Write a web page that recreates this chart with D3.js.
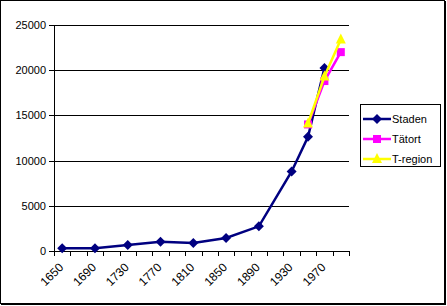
<!DOCTYPE html>
<html>
<head>
<meta charset="utf-8">
<script src="https://cdn.jsdelivr.net/npm/d3@7/dist/d3.min.js"></script>
<style>
  body { margin: 0; background: #fff; }
  svg { display: block; font-family: Arial, "Liberation Sans", sans-serif; }
</style>
</head>
<body>
<svg id="svg" width="447" height="306"></svg>
<script>
// categories (every 20 years, labels shown on every other one)
const years = [1650, 1670, 1690, 1710, 1730, 1750, 1770, 1790, 1810, 1830,
               1850, 1870, 1890, 1910, 1930, 1950, 1970, 1990];
const yTicks = [0, 5000, 10000, 15000, 20000, 25000];

const staden = [
  { year: 1650, value: 300 }, { year: 1690, value: 300 }, { year: 1730, value: 660 },
  { year: 1770, value: 1030 }, { year: 1810, value: 880 }, { year: 1850, value: 1440 },
  { year: 1890, value: 2730 }, { year: 1930, value: 8800 }, { year: 1950, value: 12640 },
  { year: 1970, value: 20240 }
];
const tatort = [
  { year: 1950, value: 14000 }, { year: 1970, value: 18800 }, { year: 1990, value: 22000 }
];
const tregion = [
  { year: 1950, value: 14100 }, { year: 1970, value: 19300 }, { year: 1990, value: 23400 }
];

const series = [
  { name: 'Staden', data: staden, color: '#000080', marker: 'diamond' },
  { name: 'Tätort', data: tatort, color: '#FF00FF', marker: 'square' },
  { name: 'T-region', data: tregion, color: '#FFFF00', marker: 'triangle' }
];

let svg = d3.select('#svg');

// outer frame
svg.append('rect').attr('x', 0.5).attr('y', 0.5).attr('width', 444).attr('height', 303)
   .attr('fill', 'none').attr('stroke', '#000').attr('stroke-width', 1);
svg.append('line').attr('x1', 445).attr('x2', 445).attr('y1', 1).attr('y2', 305)
   .attr('stroke', '#000').attr('stroke-width', 2);
svg.append('line').attr('x1', 1).attr('x2', 446).attr('y1', 304).attr('y2', 304)
   .attr('stroke', '#000').attr('stroke-width', 2);

const plotL = 54, plotR = 349, plotT = 25, plotB = 251;

let xScale = d3.scaleBand().domain(years).range([plotL, plotR]);
let yScale = d3.scaleLinear().domain([0, 25000]).range([plotB, plotT]);

// gridlines
svg.append('g')
   .attr('transform', 'translate(' + plotL + ',0)')
   .call(d3.axisLeft(yScale).tickValues(yTicks).tickSize(-(plotR - plotL)).tickFormat(''))
   .call(g => g.select('.domain').remove())
   .selectAll('line').attr('stroke', '#000').attr('shape-rendering', 'crispEdges');

// y axis
let yAx = svg.append('g')
   .attr('transform', 'translate(' + plotL + ',0)')
   .call(d3.axisLeft(yScale).tickValues(yTicks).tickSize(5).tickPadding(3).tickFormat(d3.format('d')));
yAx.selectAll('path,line').attr('stroke', '#000').attr('shape-rendering', 'crispEdges');
yAx.selectAll('text').attr('font-size', 11).attr('fill', '#000')
   .attr('font-family', 'Arial, "Liberation Sans", sans-serif');

// x axis: ticks at category boundaries
let xAx = svg.append('g').attr('transform', 'translate(0,' + plotB + ')');
xAx.append('line').attr('x1', plotL).attr('x2', plotR + 1).attr('y1', 0.5).attr('y2', 0.5)
   .attr('stroke', '#000');
let bounds = years.map(y => xScale(y)).concat([plotR]);
xAx.selectAll('.tk').data(bounds).enter().append('line')
   .attr('x1', d => Math.round(d) + 0.5).attr('x2', d => Math.round(d) + 0.5)
   .attr('y1', 0).attr('y2', 5).attr('stroke', '#000');
xAx.selectAll('.lbl').data(years.filter((d, i) => i % 2 === 0)).enter().append('text')
   .attr('transform', d => 'translate(' + (xScale(d) + xScale.bandwidth() / 2 - 4) + ',11) rotate(-45)')
   .attr('text-anchor', 'end').attr('dy', '0.7em')
   .attr('font-size', 12).text(d => d);

// line + markers
let line = d3.line().x(d => xScale(d.year) + xScale.bandwidth() / 2).y(d => yScale(d.value));

function marker(g, type, color) {
  if (type === 'diamond') {
    g.append('path').attr('d', 'M0,-5L5,0L0,5L-5,0Z').attr('fill', color);
  } else if (type === 'square') {
    g.append('rect').attr('x', -4).attr('y', -4).attr('width', 8).attr('height', 8).attr('fill', color);
  } else {
    g.append('path').attr('d', 'M0,-6L5,4L-5,4Z').attr('fill', color);
  }
}

series.forEach(s => {
  svg.append('path').datum(s.data)
     .attr('fill', 'none').attr('stroke', s.color).attr('stroke-width', 2.5)
     .attr('d', line);
  svg.selectAll(null).data(s.data).enter().append('g')
     .attr('transform', d => 'translate(' + (xScale(d.year) + xScale.bandwidth() / 2) + ',' + yScale(d.value) + ')')
     .each(function() { marker(d3.select(this), s.marker, s.color); });
});

// legend
let lg = svg.append('g').attr('transform', 'translate(360,104)');
lg.append('rect').attr('x', 0.5).attr('y', 0.5).attr('width', 80).attr('height', 62)
  .attr('fill', '#fff').attr('stroke', '#000');
series.forEach((s, i) => {
  let row = lg.append('g').attr('transform', 'translate(0,' + (15 + i * 20) + ')');
  row.append('line').attr('x1', 3).attr('x2', 31).attr('y1', 0).attr('y2', 0)
     .attr('stroke', s.color).attr('stroke-width', 2.5);
  let m = row.append('g').attr('transform', 'translate(17,0)');
  marker(m, s.marker, s.color);
  row.append('text').attr('x', 32).attr('y', 0).attr('dy', '0.35em')
     .attr('font-size', 11).text(s.name);
});
</script>
</body>
</html>
